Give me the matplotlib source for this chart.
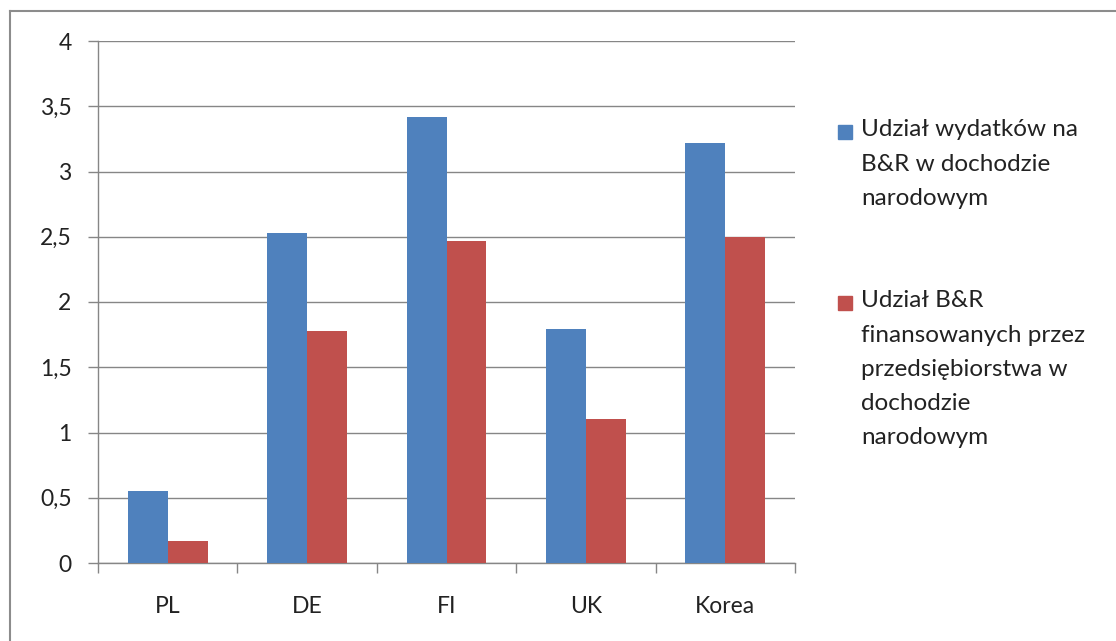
import matplotlib
matplotlib.use("Agg")
import matplotlib.pyplot as plt
from matplotlib.lines import Line2D
from matplotlib.patches import Rectangle
import numpy as np

plt.rcParams['font.family'] = ['Lato', 'DejaVu Sans']

categories = ["PL", "DE", "FI", "UK", "Korea"]
series_names = [
    "Udział wydatków na\nB&R w dochodzie\nnarodowym",
    "Udział B&R\nfinansowanych przez\nprzedsiębiorstwa w\ndochodzie\nnarodowym",
]
values_total = [0.55, 2.53, 3.42, 1.79, 3.22]
values_business = [0.17, 1.78, 2.47, 1.10, 2.50]
colors = ["#4F81BD", "#C0504D"]
ytick_values = [0, 0.5, 1, 1.5, 2, 2.5, 3, 3.5, 4]
ytick_labels = ["0", "0,5", "1", "1,5", "2", "2,5", "3", "3,5", "4"]

W, H = 1116, 641
fig = plt.figure(figsize=(W / 100, H / 100), dpi=100)
ax = fig.add_axes([98 / W, 1 - 563 / H, (795 - 98) / W, (563 - 41) / H])

x = np.arange(len(categories))
bw = 1 / 3.5
ax.bar(x - bw / 2, values_total, bw, color=colors[0], zorder=3)
ax.bar(x + bw / 2, values_business, bw, color=colors[1], zorder=3)

axis_col = "#868686"
text_col = "#222222"
fs = 16.5
ax.set_xlim(-0.5, len(categories) - 0.5)
ax.set_ylim(0, 4)
ax.set_yticks(ytick_values)
ax.set_yticklabels(ytick_labels)
ax.yaxis.grid(True, color=axis_col, linewidth=1.0, zorder=0)
ax.set_axisbelow(True)

ax.set_xticks(np.arange(len(categories) + 1) - 0.5)
ax.set_xticklabels([])
ax.set_xticks(x, minor=True)
ax.set_xticklabels(categories, minor=True)
ax.tick_params(axis='x', which='major', length=7, color=axis_col, width=1)
ax.tick_params(axis='x', which='minor', length=0, pad=24, labelsize=fs, labelcolor=text_col)
ax.tick_params(axis='y', length=7, color=axis_col, width=1, pad=12, labelsize=fs, labelcolor=text_col)

for s in ["top", "right"]:
    ax.spines[s].set_visible(False)
for s in ["left", "bottom"]:
    ax.spines[s].set_color(axis_col)
    ax.spines[s].set_linewidth(1.0)

# legend drawn manually (Excel style: marker aligned with first line)
leg_y = [132, 303]
for name, col, yc in zip(series_names, colors, leg_y):
    fig.patches.append(Rectangle((838 / W, 1 - (yc + 7) / H), 14 / W, 14 / H,
                                 transform=fig.transFigure, color=col, figure=fig))
    fig.text(861 / W, 1 - (yc - 12.5) / H, name, fontsize=17.5, color=text_col,
             va='top', ha='left', linespacing=1.77)

# chart border
fig.add_artist(Line2D([10 / W, 10 / W], [1 - 11 / H, 0], transform=fig.transFigure,
                      color="#8c8c8c", linewidth=1.5))
fig.add_artist(Line2D([10 / W, 1], [1 - 11 / H, 1 - 11 / H], transform=fig.transFigure,
                      color="#8c8c8c", linewidth=1.5))

fig.savefig("out.png", dpi=100)
